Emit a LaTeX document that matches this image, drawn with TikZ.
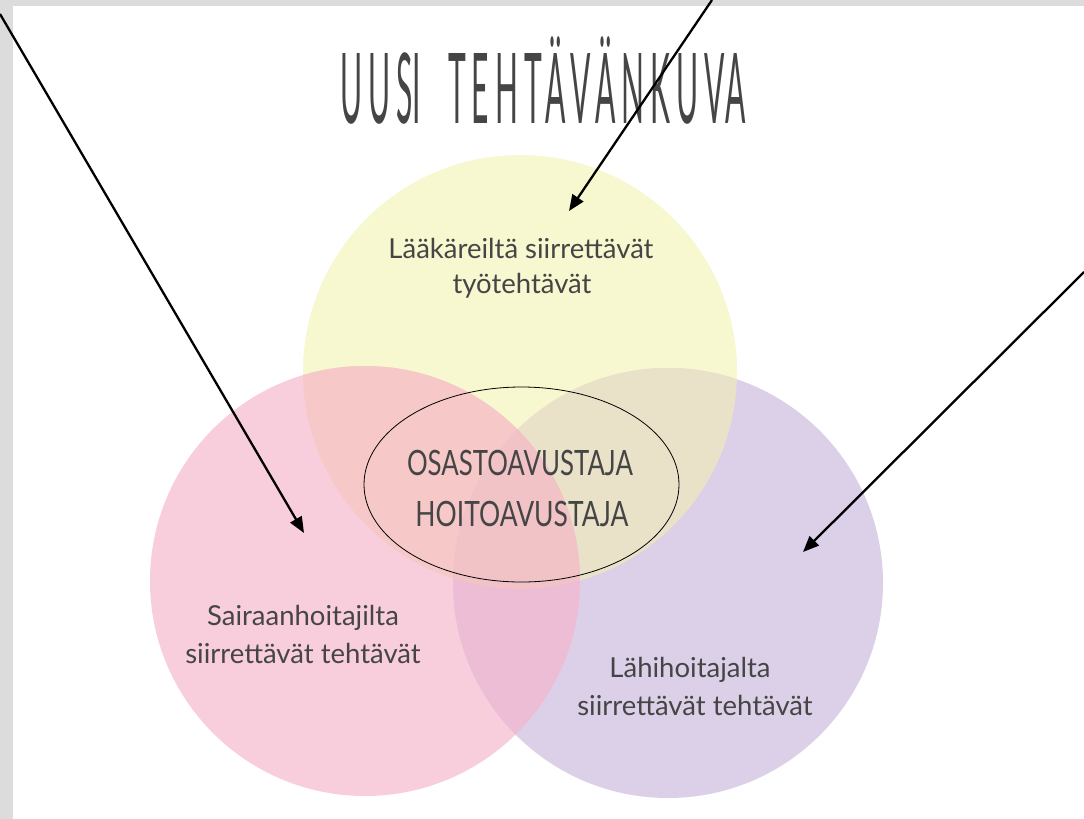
\documentclass[tikz,border=0pt]{standalone}
\usepackage{fontspec}
\setmainfont{Lato}
\usepackage{graphicx}
\usetikzlibrary{arrows.meta,shapes.geometric}
\definecolor{framegray}{HTML}{DCDCDC}
\definecolor{inkgray}{HTML}{454545}
\definecolor{cY}{HTML}{F7F7D0}
\definecolor{cP}{HTML}{F9CEDC}
\definecolor{cV}{HTML}{DCD0E8}
\definecolor{cYP}{HTML}{F6C9C8}
\definecolor{cYV}{HTML}{E9E2C9}
\definecolor{cPV}{HTML}{ECBDD4}
\definecolor{cYPV}{HTML}{F1C3C6}
\newcommand{\capfit}[3]{\resizebox{#1}{#2}{\raisebox{0pt}[\fontcharht\font`H][0pt]{#3}}}
\begin{document}
\begin{tikzpicture}[x=1pt,y=-1pt,
  lbl/.style={inner sep=0pt, anchor=base, text=inkgray, font=\fontsize{27.5}{32}\selectfont},
  coretext/.style={inner sep=0pt, anchor=base, text=inkgray},
  arr/.style={line width=2.3pt, -{Triangle[length=16pt,width=13pt]}},
]
\useasboundingbox (0,0) rectangle (1084,819);
\fill[framegray] (0,0) rectangle (1084,819);
\fill[white] (13,6) rectangle (1084,819);

\coordinate (cy) at (520,372);
\coordinate (cp) at (365,581);
\coordinate (cv) at (668,583);

\fill[cY] (cy) circle[radius=217pt];
\fill[cP] (cp) circle[radius=215pt];
\fill[cV] (cv) circle[radius=215pt];
\begin{scope}
  \clip (cy) circle[radius=217pt];
  \fill[cYP] (cp) circle[radius=215pt];
  \fill[cYV] (cv) circle[radius=215pt];
\end{scope}
\begin{scope}
  \clip (cp) circle[radius=215pt];
  \fill[cPV] (cv) circle[radius=215pt];
\end{scope}
\begin{scope}
  \clip (cy) circle[radius=217pt];
  \clip (cp) circle[radius=215pt];
  \fill[cYPV] (cv) circle[radius=215pt];
\end{scope}

\node[draw=black, line width=0.8pt, ellipse, inner sep=0pt, minimum width=315pt, minimum height=195pt] (core) at (521.5,484.5) {};

\node[coretext, anchor=base west, text=inkgray] (title) at (340,123) {\capfit{405pt}{70pt}{\addfontfeature{LetterSpace=20}UUS\addfontfeature{LetterSpace=0}I\hspace{0.9em}\addfontfeature{LetterSpace=20}TEHTÄVÄNKUV\addfontfeature{LetterSpace=0}A}};

\node[coretext] (core1) at (520,475) {\capfit{226pt}{25pt}{OSASTOAVUSTAJA}};
\node[coretext] (core2) at (522,526) {\capfit{213pt}{25pt}{HOITOAVUSTAJA}};

\node[lbl] (y1) at (521,258) {Lääkäreiltä siirrettävät};
\node[lbl] (y2) at (522,293) {työtehtävät};
\node[lbl] (p1) at (303,625) {Sairaanhoitajilta};
\node[lbl] (p2) at (303,663) {siirrettävät tehtävät};
\node[lbl] (v1) at (690,677) {Lähihoitajalta};
\node[lbl] (v2) at (695,715) {siirrettävät tehtävät};

\coordinate (a1s) at (0,14);
\coordinate (a1e) at (304,533);
\coordinate (a2s) at (712,0);
\coordinate (a2e) at (569,211);
\coordinate (a3s) at (1084,272);
\coordinate (a3e) at (803,552);
\draw[arr] (a1s) -- (a1e);
\draw[arr] (a2s) -- (a2e);
\draw[arr] (a3s) -- (a3e);
\end{tikzpicture}
\end{document}
